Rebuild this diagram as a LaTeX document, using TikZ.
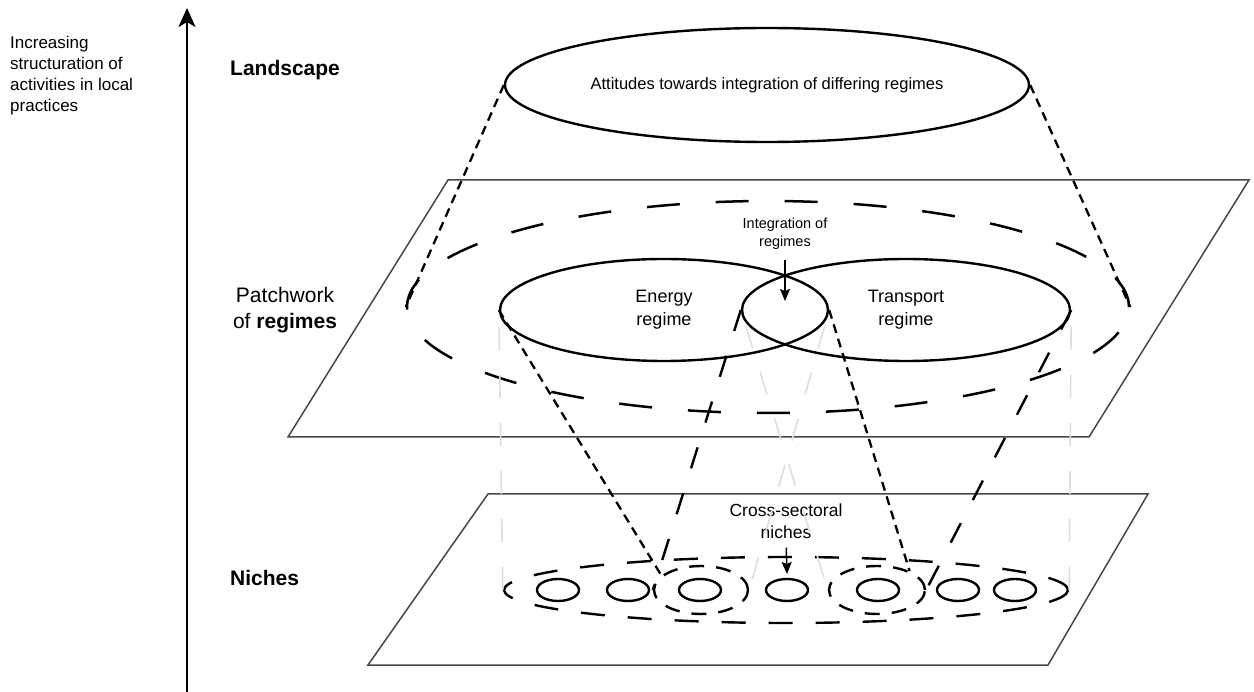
\documentclass[tikz,border=0pt]{standalone}
\usepackage{fontspec}
\setmainfont{Liberation Sans}
\usetikzlibrary{arrows.meta,shapes.geometric}
\begin{document}
\begin{tikzpicture}[x=1pt,y=-1pt,
  plane/.style={draw=black!72, line width=1.5pt},
  solidell/.style={ellipse, draw=black, line width=2.4pt, inner sep=0pt},
  bigdash/.style={ellipse, draw=black, line width=2.5pt, inner sep=0pt, dash pattern=on 33pt off 36pt},
  nichedash/.style={ellipse, draw=black, line width=2.4pt, inner sep=0pt, dash pattern=on 24pt off 23pt},
  groupdash/.style={ellipse, draw=black, line width=2.4pt, inner sep=0pt, dash pattern=on 15pt off 12pt},
  shortlink/.style={draw=black, line width=2.3pt, dash pattern=on 9pt off 6pt},
  longlink/.style={draw=black, line width=2.4pt, dash pattern=on 22pt off 26pt},
  ghost/.style={draw=black!13, line width=1.6pt, dash pattern=on 23pt off 25pt, dash phase=31pt},
  pointer/.style={draw=black, line width=1.5pt, -{Stealth[length=12pt,width=10pt,inset=2pt]}},
  lbl/.style={inner sep=0pt, align=center},
  ]
\useasboundingbox (0,0) rectangle (1254,692);

% vertical axis
\coordinate (axbot) at (187,692);
\coordinate (axtop) at (187,8);
\draw[line width=2.2pt, -{Stealth[length=19pt,width=17pt,inset=5pt]}] (axbot) -- (axtop);
\node[anchor=north west, align=left, inner sep=0pt, font=\fontsize{17}{21}\selectfont] (axislbl) at (10,36)
  {Increasing\\structuration of\\activities in local\\practices};

% level labels
\node[anchor=west, inner sep=0pt, font=\bfseries\fontsize{21}{25}\selectfont] (landlbl) at (230,70) {Landscape};
\node[lbl, font=\fontsize{21}{26}\selectfont] (patchlbl) at (285,310) {Patchwork\\of \textbf{regimes}};
\node[anchor=west, inner sep=0pt, font=\bfseries\fontsize{21}{25}\selectfont] (nichelbl) at (230,578) {Niches};

% planes
\draw[plane] (448,180) -- (1249,180) -- (1089,437) -- (288,437) -- cycle;
\draw[plane] (488,494) -- (1148,494) -- (1048,665) -- (368,665) -- cycle;

% landscape
\node[solidell, minimum width=524pt, minimum height=114pt, font=\fontsize{16.5}{20}\selectfont] (land) at (767,85)
  {Attitudes towards integration of differing regimes};

% regimes
\node[bigdash, minimum width=722pt, minimum height=212pt] (patch) at (768,307) {};
\node[solidell, minimum width=328pt, minimum height=102pt, align=center, font=\fontsize{18}{23}\selectfont] (energy) at (664,310) {Energy\\regime};
\node[solidell, minimum width=328pt, minimum height=102pt, align=center, font=\fontsize{18}{23}\selectfont] (transport) at (906,310) {Transport\\regime};
\node[lbl, font=\fontsize{14.5}{18}\selectfont] (intlbl) at (785,234) {Integration of\\regimes};
\coordinate (intpt) at (785,301);

% niches
\node[nichedash, minimum width=564pt, minimum height=66pt] (nichering) at (786,590) {};
\node[groupdash, minimum width=94pt, minimum height=48pt] (grpA) at (701,590) {};
\node[groupdash, minimum width=96pt, minimum height=48pt] (grpB) at (877,590) {};
\foreach \x [count=\i] in {558,628,700,787,878,958,1015}
  \node[solidell, minimum width=42pt, minimum height=22pt] (n\i) at (\x,590) {};
\node[lbl, font=\fontsize{17.5}{22}\selectfont] (crosslbl) at (786,521) {Cross-sectoral\\niches};
\coordinate (crosspt) at (787,574);

% faint projections
\draw[ghost] (energy.west) -- (nichering.west);
\draw[ghost] (transport.east) -- (nichering.east);
\draw[ghost] (transport.west) -- (grpB.west);
\draw[ghost] (energy.east) -- (grpA.east);

% projections between levels
\draw[shortlink] (land.west) -- (patch.west);
\draw[shortlink] (land.east) -- (patch.east);
\draw[shortlink] (energy.west) -- (grpA.160);
\draw[shortlink] (energy.east) -- (grpB.30);
\draw[longlink] (transport.west) -- (grpA.west);
\draw[longlink] (transport.east) -- (grpB.east);

% pointers
\draw[pointer, shorten <=10pt] (intlbl.south) -- (intpt);
\draw[pointer, shorten <=9pt] (crosslbl.south) -- (crosspt);
\end{tikzpicture}
\end{document}
